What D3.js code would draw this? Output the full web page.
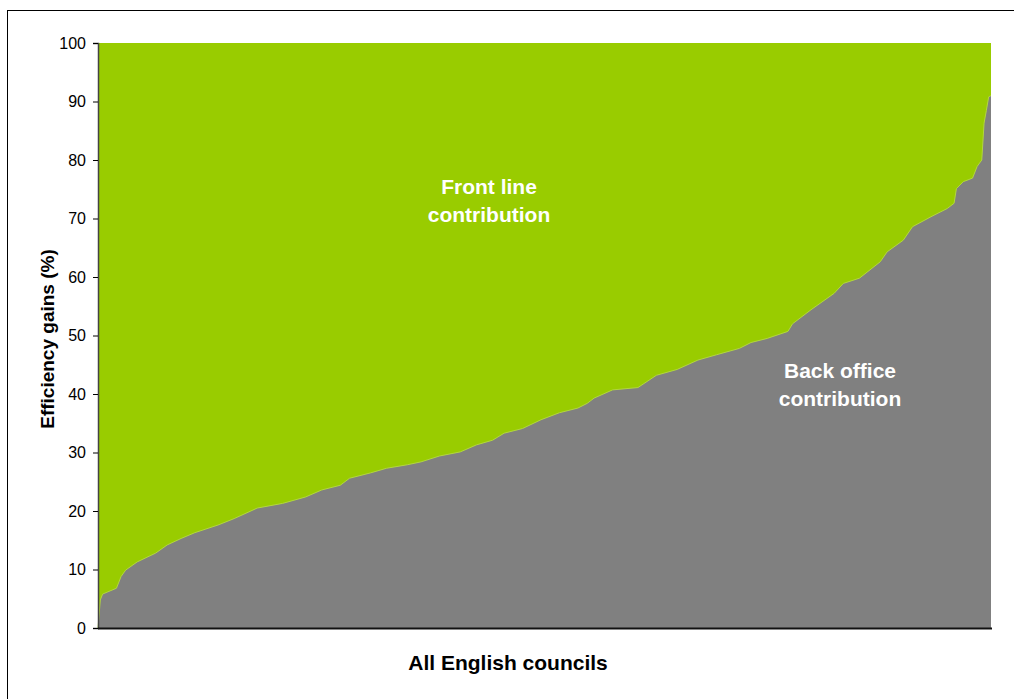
<!DOCTYPE html>
<html>
<head>
<meta charset="utf-8">
<script src="https://cdn.jsdelivr.net/npm/d3@7"></script>
<style>
  body { margin: 0; background: #fff; }
  text { font-family: Arial, "Liberation Sans", sans-serif; }
  .label { fill: #fff; font-weight: bold; font-size: 21px; }
</style>
</head>
<body>
<div class="container"></div>
<script>
// council rank (0 .. 387, 388 English councils) at which each reading was taken
var councilRank = [0, 1, 2, 8, 10, 12, 17, 25, 30, 36, 42, 52, 59, 69, 80, 90, 97,
  105, 109, 118, 125, 134, 140, 148, 157, 164, 171, 176, 184, 192, 200, 208, 212,
  215, 223, 234, 242, 251, 260, 268, 278, 283, 290, 299, 301, 309, 319, 323, 330,
  339, 342, 349, 353, 361, 368, 371, 372, 375, 379, 381, 383, 384, 385, 386, 387];
// back office share of efficiency gains (%)
var backOffice = [0, 4.8, 5.8, 6.8, 8.8, 9.9, 11.3, 12.8, 14.2, 15.3, 16.3, 17.6, 18.7,
  20.5, 21.3, 22.4, 23.6, 24.4, 25.6, 26.5, 27.3, 27.9, 28.4, 29.4, 30.1, 31.3, 32.1,
  33.3, 34.1, 35.6, 36.8, 37.6, 38.4, 39.3, 40.7, 41.1, 43.2, 44.2, 45.8, 46.7, 47.8,
  48.8, 49.5, 50.7, 52.0, 54.4, 57.2, 58.9, 59.8, 62.6, 64.3, 66.3, 68.6, 70.3, 71.7,
  72.6, 75.1, 76.3, 76.9, 78.9, 80.0, 86.3, 88.5, 90.8, 91.0];
var yTicks = [0, 10, 20, 30, 40, 50, 60, 70, 80, 90, 100];

const WIDTH = 1014;
const HEIGHT = 699;
const LEFT = 98, RIGHT = 991, TOP = 43, BOTTOM = 628;

var data = councilRank.map(function(r, i){ return {rank: r, back: backOffice[i]}; });

var svg = d3.select('.container').append('svg')
  .attr('width', WIDTH)
  .attr('height', HEIGHT);

// outer frame
svg.append('rect')
  .attr('x', 7.5).attr('y', 10.5)
  .attr('width', 1020).attr('height', 700)
  .attr('fill', 'none').attr('stroke', '#000').attr('stroke-width', 1);

var xScale = d3.scaleLinear().domain([0, 387]).range([LEFT, RIGHT]);
var yScale = d3.scaleLinear().domain([0, 100]).range([BOTTOM, TOP]);

// front line (everything above back office)
svg.append('rect')
  .attr('x', xScale(0)).attr('y', yScale(100))
  .attr('width', xScale(387) - xScale(0))
  .attr('height', yScale(0) - yScale(100))
  .attr('fill', '#99cc00');

var area = d3.area()
  .x(function(d){ return xScale(d.rank); })
  .y0(yScale(0))
  .y1(function(d){ return yScale(d.back); });

svg.append('path')
  .attr('d', area(data))
  .attr('fill', '#808080');

var line = d3.line()
  .x(function(d){ return xScale(d.rank); })
  .y(function(d){ return yScale(d.back); });

svg.append('path')
  .attr('d', line(data))
  .attr('fill', 'none')
  .attr('stroke', '#b2d640')
  .attr('stroke-width', 1);

// axes
var yAxis = d3.axisLeft(yScale).tickValues(yTicks).tickSize(5).tickPadding(7);
var gy = svg.append('g')
  .attr('transform', 'translate(' + LEFT + ',0)')
  .call(yAxis);
gy.select('.domain').attr('stroke', '#444').attr('stroke-width', 1.5);
gy.selectAll('.tick line').attr('stroke', '#000');
gy.selectAll('.tick text')
  .style('font-size', '16px')
  .attr('fill', '#000');

svg.append('line')
  .attr('x1', LEFT).attr('x2', RIGHT + 1)
  .attr('y1', BOTTOM + 0.5).attr('y2', BOTTOM + 0.5)
  .attr('stroke', '#111').attr('stroke-width', 2);

// axis titles
svg.append('text')
  .attr('transform', 'translate(54,339) rotate(-90)')
  .attr('text-anchor', 'middle')
  .style('font-size', '19px').style('font-weight', 'bold')
  .text('Efficiency gains (%)');

svg.append('text')
  .attr('x', 508).attr('y', 670)
  .attr('text-anchor', 'middle')
  .style('font-size', '21px').style('font-weight', 'bold')
  .text('All English councils');

// in-chart labels
svg.append('text').attr('class', 'label')
  .attr('x', 489).attr('y', 194).attr('text-anchor', 'middle').text('Front line');
svg.append('text').attr('class', 'label')
  .attr('x', 489).attr('y', 222).attr('text-anchor', 'middle').text('contribution');
svg.append('text').attr('class', 'label')
  .attr('x', 840).attr('y', 378).attr('text-anchor', 'middle').text('Back office');
svg.append('text').attr('class', 'label')
  .attr('x', 840).attr('y', 406).attr('text-anchor', 'middle').text('contribution');
</script>
</body>
</html>
